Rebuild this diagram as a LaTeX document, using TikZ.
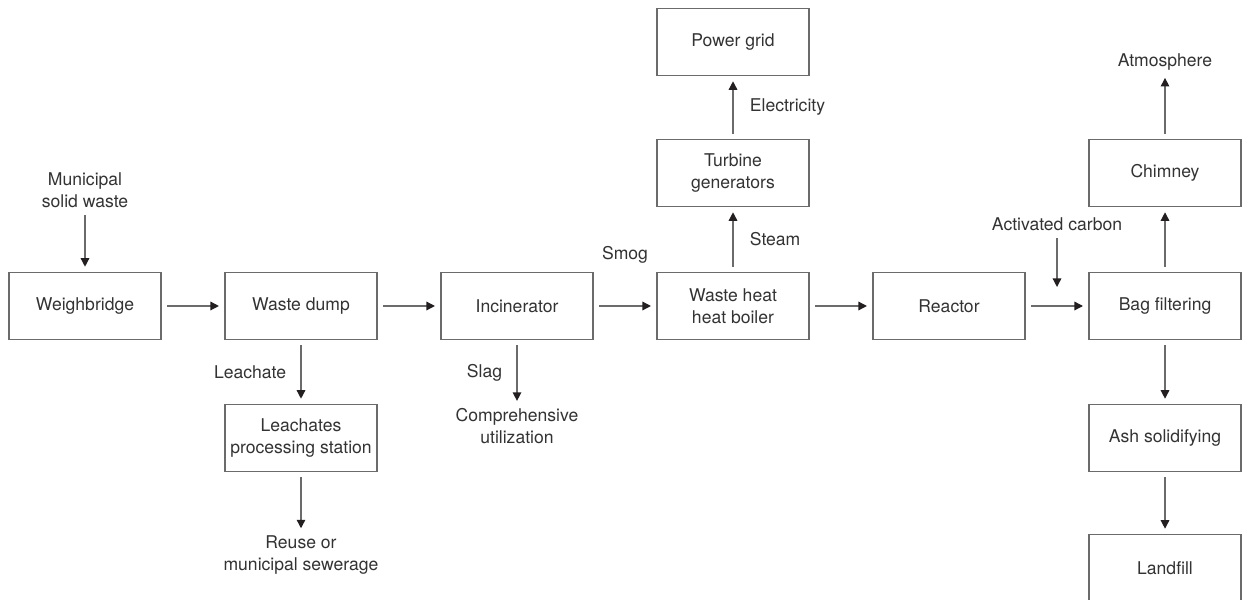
\documentclass[tikz,border=0pt]{standalone}
\usepackage{fontspec}
\setmainfont{TeX Gyre Heros}
\usepackage{xcolor}
\usepackage{tikz}
\usetikzlibrary{arrows.meta, positioning, calc}

\definecolor{edgegray}{HTML}{6B6B6B}
\definecolor{tipdark}{HTML}{231F20}
\definecolor{textgray}{HTML}{333333}

\begin{document}
\begin{tikzpicture}[
    node distance=4.32cm,
    font=\fontsize{10}{12.3}\selectfont,
    text=textgray,
    block/.style={
        rectangle,
        draw=edgegray,
        line width=0.6pt,
        minimum width=3.04cm,
        minimum height=1.33cm,
        align=center,
        inner sep=2pt
    },
    flowtext/.style={
        align=center,
        inner sep=1pt
    },
    line/.style={
        draw=edgegray,
        line width=0.75pt,
        -{Triangle[length=0.17cm, width=0.17cm, color=tipdark]},
        shorten >=0.11cm,
        shorten <=0.11cm
    }
]
\useasboundingbox (0,0) rectangle (24.86,11.98);

% Main line
\node [block] (weigh) at (1.7,5.86) {Weighbridge};
\node [block, right of=weigh] (dump) {Waste dump};
\node [block, right of=dump] (incin) {Incinerator};
\node [block, right of=incin] (boiler) {Waste heat\\heat boiler};
\node [block, right of=boiler] (reactor) {Reactor};
\node [block, right of=reactor] (bag) {Bag filtering};

% Branches
\node [block, above of=boiler, node distance=2.66cm] (turbine) {Turbine\\generators};
\node [block, above of=turbine, node distance=2.62cm] (grid) {Power grid};
\node [block, above of=bag, node distance=2.66cm] (chimney) {Chimney};
\node [block, below of=bag, node distance=2.64cm] (ash) {Ash solidifying};
\node [block, below of=ash, node distance=2.6cm] (landfill) {Landfill};
\node [block, below of=dump, node distance=2.64cm] (leach) {Leachates\\processing station};

% Inputs and outputs
\node [flowtext, above of=weigh, node distance=2.32cm] (msw) {Municipal\\solid waste};
\node [flowtext, above of=chimney, node distance=2.22cm] (atmos) {Atmosphere};
\node [flowtext, below of=leach, node distance=2.34cm] (reuse) {Reuse or\\municipal sewerage};
\node [flowtext, below of=incin, node distance=2.4cm] (compr) {Comprehensive\\utilization};
\node [flowtext] (carbon) at ($(reactor.east)!0.5!(bag.west)+(0,1.64)$) {Activated carbon};
\coordinate (cin) at ($(reactor.east)!0.5!(bag.west)+(0,0.27)$);

% Paths
\path [line] (msw) -- (weigh);
\path [line] (weigh) -- (dump);
\path [line] (dump) -- (incin);
\path [line] (incin) -- node [flowtext, yshift=1.03cm] {Smog} (boiler);
\path [line] (boiler) -- (reactor);
\path [line] (reactor) -- (bag);
\path [line] (carbon) -- (cin);
\path [line] (boiler) -- node [flowtext, right, xshift=0.29cm] {Steam} (turbine);
\path [line] (turbine) -- node [flowtext, right, xshift=0.29cm] {Electricity} (grid);
\path [line] (bag) -- (chimney);
\path [line] (chimney) -- (atmos);
\path [line] (bag) -- (ash);
\path [line] (ash) -- (landfill);
\path [line] (dump) -- node [flowtext, left, xshift=-0.25cm] {Leachate} (leach);
\path [line] (leach) -- (reuse);
\path [line] (incin) -- node [flowtext, left, xshift=-0.25cm] {Slag} (compr);

\end{tikzpicture}
\end{document}
